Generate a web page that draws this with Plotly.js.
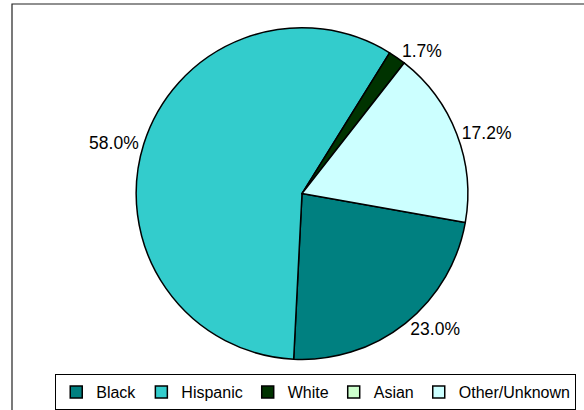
<!DOCTYPE html>
<html>
<head>
<meta charset="utf-8">
<script src="https://cdn.plot.ly/plotly-3.0.1.min.js"></script>
<style>html,body{margin:0;padding:0;background:#fff;}#chart{width:584px;height:410px;}</style>
</head>
<body>
<div id="chart"></div>
<script>
const categories = ["Black", "Hispanic", "White", "Asian", "Other/Unknown"];
const shares = [23.0, 58.0, 1.7, 0, 17.2];
const sliceColors = ["#008080", "#33CCCC", "#003300", "#CCFFCC", "#CCFFFF"];

const trace = {
  type: "pie",
  labels: categories,
  values: shares,
  sort: false,
  direction: "clockwise",
  rotation: 100,
  marker: { colors: sliceColors, line: { color: "#000000", width: 1.5 } },
  texttemplate: shares.map(v => v > 0 ? "%{value:.1f}%" : ""),
  textposition: "outside",
  textfont: { family: "Liberation Sans, Arial, sans-serif", size: 17.5, color: "#000000" },
  hoverinfo: "label+value",
  domain: { x: [0.215, 0.799], y: [0.118, 0.941] }
};

const layout = {
  width: 584,
  height: 410,
  margin: { l: 12, r: 0, t: 4, b: 0 },
  paper_bgcolor: "#ffffff",
  plot_bgcolor: "#ffffff",
  font: { family: "Liberation Sans, Arial, sans-serif", color: "#000000" },
  showlegend: true,
  legend: {
    orientation: "h",
    x: 0.531,
    xanchor: "center",
    y: 0.081,
    yanchor: "top",
    bgcolor: "#ffffff",
    bordercolor: "#000000",
    borderwidth: 1,
    font: { size: 16, color: "#000000" },
    itemwidth: 30,
    traceorder: "normal"
  },
  shapes: [
    { type: "rect", xref: "paper", yref: "paper", x0: 0, x1: 1.05, y0: -0.05, y1: 1,
      line: { color: "#222222", width: 1.2 }, layer: "below" }
  ]
};

Plotly.newPlot("chart", [trace], layout, { displayModeBar: false, staticPlot: true });
</script>
</body>
</html>
